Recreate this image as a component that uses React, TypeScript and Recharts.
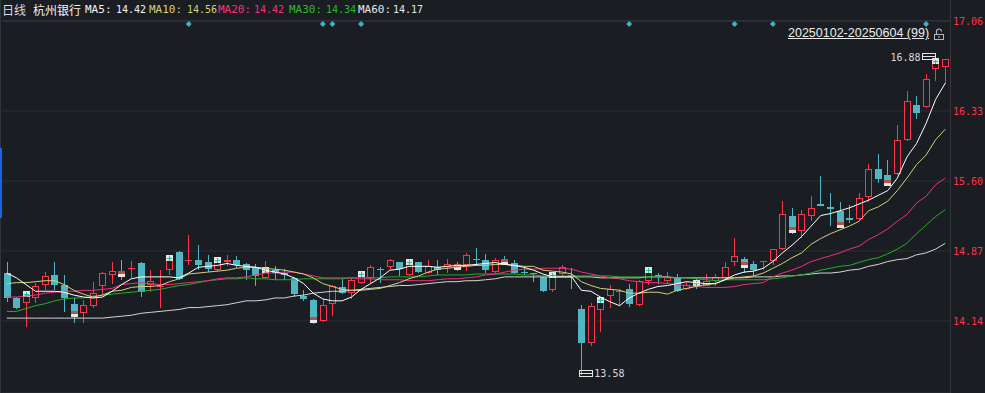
import React from "react";
import {
  ComposedChart,
  Bar,
  Line,
  XAxis,
  YAxis,
  CartesianGrid,
  ReferenceLine,
  ReferenceDot,
} from "recharts";

// daily candles, 2025-01-02 .. 2025-06-04 (99 bars)
const opens = [
  14.64, 14.38, 14.33, 14.38, 14.52, 14.62, 14.52, 14.32, 14.22, 14.3, 14.51, 14.62, 14.64, 14.68, 14.74, 14.52, 14.5, 14.67, 14.86, 14.77, 14.78, 14.75, 14.67, 14.75, 14.78, 14.73,
  14.7, 14.59, 14.67, 14.64, 14.59, 14.4, 14.36, 14.14, 14.32, 14.49, 14.43, 14.54, 14.59, 14.68, 14.7, 14.75, 14.62, 14.75, 14.64, 14.7, 14.7, 14.71, 14.72, 14.79, 14.78, 14.65,
  14.76, 14.74, 14.65, 14.64, 14.6, 14.46, 14.63, 14.62, 14.26, 13.91, 14.25, 14.4, 14.44, 14.47, 14.31, 14.56, 14.62, 14.56, 14.59, 14.47, 14.52, 14.51, 14.56, 14.59, 14.76, 14.79,
  14.73, 14.75, 14.77, 14.89, 15.24, 15.08, 15.24, 15.36, 15.33, 15.29, 15.21, 15.2, 15.43, 15.73, 15.66, 15.67, 16.03, 16.39, 16.37, 16.77, 16.79,
];
const highs = [
  14.76, 14.39, 14.44, 14.54, 14.65, 14.76, 14.62, 14.38, 14.36, 14.55, 14.65, 14.75, 14.78, 14.77, 14.75, 14.67, 14.67, 14.81, 14.87, 15.04, 14.93, 14.83, 14.79, 14.83, 14.82, 14.74,
  14.73, 14.77, 14.71, 14.68, 14.6, 14.46, 14.37, 14.37, 14.52, 14.58, 14.59, 14.62, 14.72, 14.7, 14.79, 14.755, 14.78, 14.755, 14.78, 14.78, 14.79, 14.76, 14.85, 14.9, 14.84, 14.8,
  14.82, 14.78, 14.69, 14.645, 14.61, 14.64, 14.72, 14.69, 14.31, 14.33, 14.39, 14.52, 14.47, 14.53, 14.57, 14.68, 14.64, 14.65, 14.63, 14.55, 14.59, 14.63, 14.63, 14.75, 15.01, 14.81,
  14.77, 14.77, 14.89, 15.39, 15.32, 15.3, 15.44, 15.65, 15.48, 15.38, 15.35, 15.48, 15.78, 15.88, 15.82, 16.18, 16.54, 16.49, 16.72, 16.88, 16.875,
];
const lows = [
  14.34, 14.27, 14.08, 14.33, 14.46, 14.46, 14.23, 14.12, 14.12, 14.28, 14.41, 14.53, 14.57, 14.59, 14.39, 14.44, 14.28, 14.62, 14.57, 14.72, 14.67, 14.65, 14.65, 14.71, 14.69, 14.57,
  14.51, 14.58, 14.57, 14.57, 14.39, 14.35, 14.11, 14.13, 14.19, 14.42, 14.37, 14.53, 14.53, 14.54, 14.68, 14.61, 14.61, 14.64, 14.63, 14.62, 14.64, 14.66, 14.66, 14.71, 14.64, 14.64,
  14.72, 14.63, 14.62, 14.55, 14.44, 14.44, 14.6, 14.47, 13.58, 13.88, 14.03, 14.28, 14.3, 14.29, 14.3, 14.52, 14.53, 14.53, 14.44, 14.46, 14.47, 14.5, 14.5, 14.58, 14.71, 14.64,
  14.61, 14.67, 14.72, 14.88, 15.05, 15.01, 15.18, 15.34, 15.13, 15.12, 15.16, 15.19, 15.38, 15.58, 15.56, 15.66, 16.02, 16.25, 16.36, 16.64, 16.61,
];
const closes = [
  14.38, 14.28, 14.4, 14.51, 14.61, 14.52, 14.38, 14.2, 14.31, 14.43, 14.64, 14.66, 14.62, 14.69, 14.44, 14.56, 14.51, 14.78, 14.58, 14.78, 14.72, 14.68, 14.76, 14.78, 14.72, 14.67,
  14.61, 14.65, 14.64, 14.62, 14.42, 14.37, 14.14, 14.31, 14.51, 14.43, 14.57, 14.61, 14.7, 14.67, 14.78, 14.68, 14.73, 14.65, 14.71, 14.67, 14.73, 14.69, 14.83, 14.78, 14.67, 14.78,
  14.74, 14.64, 14.645, 14.63, 14.45, 14.6, 14.7, 14.6, 13.91, 14.3, 14.34, 14.47, 14.45, 14.32, 14.56, 14.65, 14.615, 14.6, 14.45, 14.52, 14.5, 14.56, 14.6, 14.7, 14.82, 14.71,
  14.67, 14.77, 14.89, 15.26, 15.08, 15.26, 15.32, 15.34, 15.31, 15.13, 15.19, 15.42, 15.72, 15.62, 15.57, 16.03, 16.43, 16.31, 16.66, 16.83, 16.87,
];

// moving averages as drawn on the chart
const ma5 = [
  14.64, 14.59, 14.52, 14.45, 14.45, 14.45, 14.44, 14.41, 14.39, 14.38, 14.39, 14.45, 14.52, 14.58, 14.6, 14.6, 14.6, 14.6, 14.59, 14.64, 14.7, 14.71, 14.72, 14.74, 14.72, 14.71,
  14.7, 14.67, 14.65, 14.63, 14.59, 14.53, 14.43, 14.37, 14.35, 14.35, 14.39, 14.47, 14.53, 14.59, 14.67, 14.68, 14.71, 14.71, 14.71, 14.7, 14.71, 14.72, 14.72, 14.73, 14.74, 14.75,
  14.73, 14.72, 14.7, 14.67, 14.63, 14.6, 14.6, 14.6, 14.46, 14.45, 14.39, 14.34, 14.3, 14.38, 14.43, 14.47, 14.5, 14.51, 14.53, 14.55, 14.54, 14.53, 14.53, 14.57, 14.62, 14.65,
  14.66, 14.69, 14.76, 14.85, 14.93, 15.02, 15.13, 15.24, 15.26, 15.29, 15.32, 15.36, 15.4, 15.45, 15.5, 15.63, 15.85, 15.99, 16.2, 16.45, 16.62,
];
const ma10 = [
  14.53, 14.54, 14.54, 14.55, 14.56, 14.56, 14.52, 14.46, 14.42, 14.39, 14.41, 14.45, 14.46, 14.49, 14.5, 14.5, 14.51, 14.55, 14.58, 14.63, 14.64, 14.65, 14.66, 14.67, 14.69, 14.7,
  14.7, 14.69, 14.68, 14.67, 14.65, 14.63, 14.59, 14.53, 14.5, 14.47, 14.46, 14.46, 14.47, 14.48, 14.51, 14.54, 14.58, 14.61, 14.65, 14.68, 14.69, 14.7, 14.71, 14.72, 14.72, 14.73,
  14.73, 14.72, 14.71, 14.71, 14.67, 14.66, 14.65, 14.63, 14.55, 14.51, 14.48, 14.47, 14.46, 14.43, 14.43, 14.44, 14.44, 14.42, 14.46, 14.48, 14.5, 14.52, 14.53, 14.57, 14.59, 14.6,
  14.61, 14.64, 14.69, 14.74, 14.8, 14.85, 14.94, 15.0, 15.05, 15.09, 15.13, 15.18, 15.29, 15.33, 15.39, 15.5, 15.63, 15.77, 15.87, 16.03, 16.14,
];
const ma20 = [
  14.39, 14.39, 14.4, 14.41, 14.43, 14.44, 14.45, 14.45, 14.46, 14.46, 14.47, 14.48, 14.52, 14.53, 14.54, 14.53, 14.52, 14.52, 14.53, 14.54, 14.55, 14.56, 14.58, 14.59, 14.59, 14.6,
  14.62, 14.64, 14.64, 14.65, 14.65, 14.63, 14.61, 14.59, 14.59, 14.59, 14.59, 14.58, 14.58, 14.57, 14.57, 14.57, 14.56, 14.56, 14.56, 14.57, 14.58, 14.58, 14.59, 14.6, 14.62, 14.63,
  14.65, 14.67, 14.68, 14.68, 14.69, 14.69, 14.69, 14.68, 14.65, 14.63, 14.61, 14.59, 14.58, 14.56, 14.55, 14.54, 14.54, 14.53, 14.52, 14.51, 14.5, 14.49, 14.49, 14.49, 14.5, 14.52,
  14.53, 14.54, 14.6, 14.64, 14.67, 14.71, 14.76, 14.79, 14.82, 14.85, 14.89, 14.92, 14.99, 15.04, 15.1, 15.18, 15.25, 15.37, 15.44, 15.56, 15.63,
];
const ma30 = [
  14.24, 14.24, 14.27, 14.3, 14.32, 14.35, 14.37, 14.38, 14.38, 14.4, 14.41, 14.42, 14.43, 14.44, 14.45, 14.46, 14.47, 14.49, 14.51, 14.52, 14.54, 14.56, 14.57, 14.58, 14.58, 14.59,
  14.58, 14.58, 14.57, 14.57, 14.57, 14.58, 14.58, 14.58, 14.58, 14.58, 14.59, 14.59, 14.59, 14.59, 14.6, 14.6, 14.6, 14.6, 14.61, 14.62, 14.62, 14.62, 14.62, 14.63, 14.63, 14.63,
  14.63, 14.63, 14.62, 14.62, 14.61, 14.61, 14.61, 14.61, 14.61, 14.61, 14.61, 14.61, 14.6, 14.6, 14.6, 14.6, 14.6, 14.59, 14.59, 14.59, 14.58, 14.57, 14.56, 14.57, 14.57, 14.57,
  14.57, 14.57, 14.58, 14.59, 14.61, 14.62, 14.64, 14.67, 14.69, 14.71, 14.72, 14.75, 14.78, 14.8, 14.84, 14.89, 14.95, 15.05, 15.14, 15.23, 15.3,
];
const ma60 = [
  14.17, 14.17, 14.17, 14.17, 14.17, 14.17, 14.17, 14.17, 14.17, 14.17, 14.17, 14.18, 14.19, 14.2, 14.22, 14.23, 14.24, 14.25, 14.26, 14.28, 14.28, 14.29, 14.3, 14.31, 14.33, 14.35,
  14.35, 14.36, 14.38, 14.38, 14.4, 14.41, 14.43, 14.44, 14.45, 14.45, 14.46, 14.47, 14.48, 14.49, 14.5, 14.51, 14.51, 14.52, 14.53, 14.54, 14.55, 14.55, 14.56, 14.56, 14.57, 14.58,
  14.6, 14.6, 14.6, 14.6, 14.6, 14.6, 14.6, 14.6, 14.6, 14.6, 14.59, 14.59, 14.59, 14.59, 14.59, 14.6, 14.6, 14.6, 14.59, 14.59, 14.59, 14.59, 14.59, 14.59, 14.59, 14.59,
  14.6, 14.6, 14.6, 14.61, 14.61, 14.62, 14.63, 14.64, 14.64, 14.65, 14.67, 14.68, 14.71, 14.73, 14.76, 14.78, 14.79, 14.83, 14.85, 14.89, 14.95,
];

const yTicks = [14.14, 14.87, 15.6, 16.33];
const topLabel = "17.06";
const flagBars = [19, 33, 34, 37, 65, 76, 80, 96];
const plusMarks = [2, 17, 22, 27, 37, 42, 57, 62, 67, 72, 97];
const brownMarks = [7, 12, 32, 47, 52, 77, 82, 87, 92];
const stockName = "杭州银行";
const periodName = "日线";
const maLegend = [
  { name: "MA5", value: "14.42", color: "#f2f2f2" },
  { name: "MA10", value: "14.56", color: "#d2d27c" },
  { name: "MA20", value: "14.42", color: "#f2357c" },
  { name: "MA30", value: "14.34", color: "#2dbb2d" },
  { name: "MA60", value: "14.17", color: "#e6e6e6" },
];
const rangeText = "20250102-20250604 (99)";

const BG = "#1a1d22";
const GRID = "#2e3137";
const RED = "#ff3448";
const CYAN = "#52b6c2";
const MONO = "'DejaVu Sans Mono', 'Liberation Mono', monospace";

// y scale: 73 cents = 70px, 14.14 sits at y=321
const Y_MIN = 13.389;
const Y_MAX = 17.2686;

const rows = opens.map((o, i) => ({
  idx: i,
  o,
  h: highs[i],
  l: lows[i],
  c: closes[i],
  range: [lows[i], highs[i]],
  ma5: ma5[i],
  ma10: ma10[i],
  ma20: ma20[i],
  ma30: ma30[i],
  ma60: ma60[i],
}));

const maxHigh = Math.max(...highs);
const maxIdx = highs.indexOf(maxHigh);
const minLow = Math.min(...lows);
const minIdx = lows.indexOf(minLow);

function Candle(props: any) {
  const { x, y, width, height, payload } = props;
  if (x == null || !payload) return null;
  const { o, h, l, c, idx } = payload;
  const top = height >= 0 ? y : y + height;
  const span = Math.abs(height);
  const k = span / (h - l);
  const py = (v: number) => top + (h - v) * k;
  const cx = Math.round(x + width / 2);
  const up = c >= o;
  const col = up ? RED : CYAN;
  const bTop = Math.round(py(Math.max(o, c)));
  const bBot = Math.round(py(Math.min(o, c)));

  let body;
  if (bBot - bTop < 2) {
    body = <line x1={cx - 3} x2={cx + 4} y1={bTop + 0.5} y2={bTop + 0.5} stroke={col} />;
  } else if (up) {
    body = (
      <rect x={cx - 2.5} y={bTop + 0.5} width={6} height={bBot - bTop - 1} fill={BG} stroke={col} />
    );
  } else {
    body = <rect x={cx - 3} y={bTop} width={7} height={bBot - bTop} fill={col} />;
  }

  return (
    <g shapeRendering="crispEdges">
      <line x1={cx + 0.5} x2={cx + 0.5} y1={Math.round(top)} y2={Math.round(top + span)} stroke={col} />
      {body}
      {plusMarks.includes(idx) && (
        <g>
          <rect x={cx - 3} y={bTop - 5} width={7} height={6} fill="#e4e4e4" />
          <line x1={cx - 2} x2={cx + 3} y1={bTop - 1.5} y2={bTop - 1.5} stroke="#1fbf9f" />
          <line x1={cx + 0.5} x2={cx + 0.5} y1={bTop - 4} y2={bTop + 1} stroke="#1fbf9f" />
        </g>
      )}
      {brownMarks.includes(idx) && (
        <g>
          <rect x={cx - 3} y={bBot - 4} width={7} height={3} fill="#b5524a" />
          <rect x={cx - 3} y={bBot - 1} width={7} height={3} fill="#e6e6e6" />
        </g>
      )}
    </g>
  );
}

const Diamond = ({ cx, cy }: any) => (
  <polygon
    points={`${cx},${cy} ${cx + 3},${cy + 3} ${cx},${cy + 6} ${cx - 3},${cy + 3}`}
    fill="#3fb2c2"
  />
);

const MaxTag = ({ cx, cy }: any) => (
  <g>
    <text x={cx - 15} y={cy - 1} dy="0.35em" textAnchor="end" fill="#d8d8d8" fontSize={10} fontFamily={MONO}>
      {maxHigh.toFixed(2)}
    </text>
    <g shapeRendering="crispEdges">
      <rect x={cx - 13.5} y={cy - 4.5} width={13} height={6} fill="none" stroke="#e6e6e6" />
      <line x1={cx - 13} x2={cx} y1={cy - 1.5} y2={cy - 1.5} stroke="#e6e6e6" />
    </g>
  </g>
);

const MinTag = ({ cx, cy }: any) => (
  <g>
    <g shapeRendering="crispEdges">
      <rect x={cx - 1.5} y={cy - 4.5} width={13} height={6} fill="none" stroke="#e6e6e6" />
      <line x1={cx - 1} x2={cx + 11} y1={cy - 1.5} y2={cy - 1.5} stroke="#e6e6e6" />
    </g>
    <text x={cx + 13} y={cy - 1} dy="0.35em" textAnchor="start" fill="#d8d8d8" fontSize={10} fontFamily={MONO}>
      {minLow.toFixed(2)}
    </text>
  </g>
);

export default function App() {
  const headText: React.CSSProperties = {
    position: "absolute",
    top: 0,
    lineHeight: "20px",
    whiteSpace: "nowrap",
  };
  const legendX = [
    [85, 116],
    [149, 187],
    [218, 254],
    [289, 326],
    [358, 393],
  ];

  return (
    <div
      style={{
        position: "absolute",
        left: 0,
        top: 0,
        width: 985,
        height: 393,
        background: BG,
        overflow: "hidden",
      }}
    >
      <ComposedChart
        width={985}
        height={393}
        data={rows}
        margin={{ top: 21, right: 0, bottom: 0, left: 2 }}
      >
        <CartesianGrid horizontal vertical={false} stroke={GRID} />
        <XAxis dataKey="idx" type="category" hide />
        <YAxis
          orientation="right"
          width={35}
          domain={[Y_MIN, Y_MAX]}
          ticks={yTicks}
          interval={0}
          tickFormatter={(v) => Number(v).toFixed(2)}
          tick={{ fill: RED, fontSize: 10, fontFamily: MONO }}
          tickLine={false}
          tickSize={0}
          tickMargin={3}
          axisLine={false}
          allowDataOverflow
        />
        <ReferenceLine
          y={Y_MAX}
          stroke="#34373d"
          label={{ value: topLabel, position: "right", fill: RED, fontSize: 10, fontFamily: MONO, offset: 3 }}
        />
        <Bar dataKey="range" barSize={7} shape={<Candle />} isAnimationActive={false} />
        <Line dataKey="ma60" stroke="#d4d4d4" strokeWidth={1} dot={false} activeDot={false} isAnimationActive={false} />
        <Line dataKey="ma30" stroke="#22b022" strokeWidth={1} dot={false} activeDot={false} isAnimationActive={false} />
        <Line dataKey="ma20" stroke="#f0307c" strokeWidth={1} dot={false} activeDot={false} isAnimationActive={false} />
        <Line dataKey="ma10" stroke="#d0d07a" strokeWidth={1} dot={false} activeDot={false} isAnimationActive={false} />
        <Line dataKey="ma5" stroke="#ffffff" strokeWidth={1} dot={false} activeDot={false} isAnimationActive={false} />
        {flagBars.map((i) => (
          <ReferenceDot key={i} x={i} y={Y_MAX} r={3} shape={<Diamond />} ifOverflow="visible" />
        ))}
        <ReferenceDot x={maxIdx} y={maxHigh} r={3} shape={<MaxTag />} ifOverflow="visible" />
        <ReferenceDot x={minIdx} y={minLow} r={3} shape={<MinTag />} ifOverflow="visible" />
      </ComposedChart>

      {/* header strip */}
      <div style={{ ...headText, left: 2, color: "#dcdcdc", fontSize: 12, fontFamily: "'Noto Sans CJK SC', sans-serif" }}>
        {periodName}
      </div>
      <div style={{ ...headText, left: 33, color: "#f4f4f4", fontSize: 12, fontFamily: "'Noto Sans CJK SC', sans-serif" }}>
        {stockName}
      </div>
      {maLegend.map((m, i) => (
        <React.Fragment key={m.name}>
          <div style={{ ...headText, left: legendX[i][0], color: m.color, fontSize: 11, fontFamily: MONO }}>
            {m.name}:
          </div>
          <div style={{ ...headText, left: legendX[i][1], color: m.color, fontSize: 10, fontFamily: MONO }}>
            {m.value}
          </div>
        </React.Fragment>
      ))}

      {/* period range + lock */}
      <div
        style={{
          position: "absolute",
          left: 788,
          top: 25,
          color: "#ececec",
          fontSize: 12.5,
          fontFamily: "'Liberation Sans', Arial, sans-serif",
          textDecoration: "underline",
          lineHeight: "16px",
          whiteSpace: "nowrap",
        }}
      >
        {rangeText}
      </div>
      <svg style={{ position: "absolute", left: 933, top: 28 }} width={12} height={13}>
        <path d="M3.5 6 V3.5 a2.5 2.5 0 0 1 5 0" fill="none" stroke="#b4b4b4" strokeWidth={1.2} />
        <rect x={1.5} y={6.5} width={9} height={5} fill="none" stroke="#b4b4b4" />
        <line x1={6} x2={6} y1={8} y2={10} stroke="#b4b4b4" />
      </svg>

      {/* frame lines */}
      <div style={{ position: "absolute", left: 950, top: 0, width: 1, height: 393, background: "#34373d" }} />
      <div style={{ position: "absolute", left: 0, top: 0, width: 1, height: 393, background: "#30333a" }} />
      <div style={{ position: "absolute", left: 0, top: 148, width: 2, height: 70, background: "#1565e0" }} />
    </div>
  );
}
